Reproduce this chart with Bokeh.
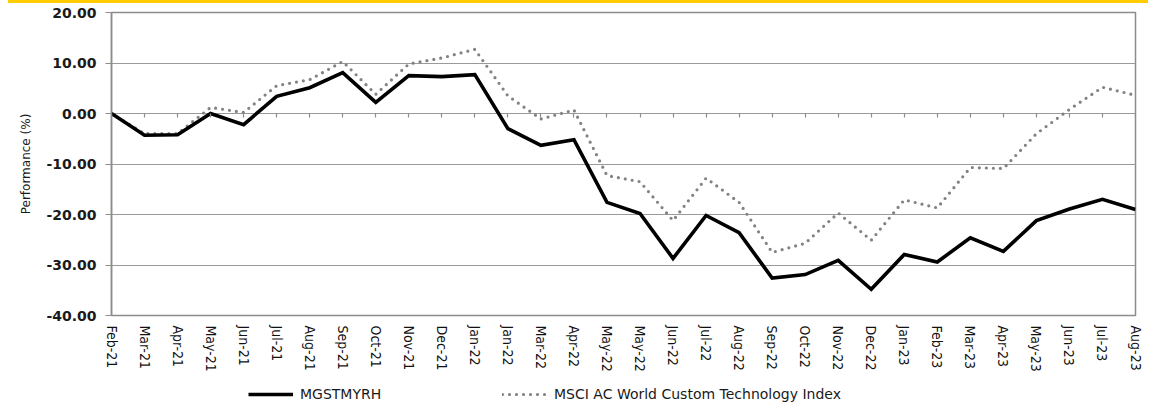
from bokeh.plotting import figure
from bokeh.layouts import column
from bokeh.models import (Range1d, FixedTicker, PrintfTickFormatter, LinearAxis,
                          Legend, LegendItem, ColumnDataSource, Div)
from bokeh.embed import file_html
from bokeh.resources import INLINE

months = ["Feb-21", "Mar-21", "Apr-21", "May-21", "Jun-21", "Jul-21", "Aug-21",
          "Sep-21", "Oct-21", "Nov-21", "Dec-21", "Jan-22", "Jan-22", "Mar-22",
          "Apr-22", "May-22", "May-22", "Jun-22", "Jul-22", "Aug-22", "Sep-22",
          "Oct-22", "Nov-22", "Dec-22", "Jan-23", "Feb-23", "Mar-23", "Apr-23",
          "May-23", "Jun-23", "Jul-23", "Aug-23"]
fund = [0.0, -4.3, -4.2, 0.0, -2.2, 3.4, 5.1, 8.1, 2.2, 7.5, 7.3, 7.7, -3.0, -6.3,
        -5.2, -17.6, -19.8, -28.7, -20.2, -23.6, -32.6, -31.9, -29.1, -34.8, -27.9,
        -29.4, -24.6, -27.3, -21.2, -18.9, -17.0, -19.0]
bench = [0.0, -4.0, -4.0, 1.2, 0.2, 5.5, 6.7, 10.3, 3.8, 9.8, 11.0, 12.7, 3.5, -1.1,
         0.7, -12.3, -13.5, -21.2, -12.8, -17.6, -27.5, -25.7, -19.7, -25.1, -17.1,
         -18.7, -10.7, -10.9, -4.0, 0.8, 5.2, 3.6]
y_ticks = [-40, -30, -20, -10, 0, 10, 20]
fund_name = "MGSTMYRH"
bench_name = "MSCI AC World Custom Technology Index"

FUND_STYLE = dict(line_color="black", line_width=3.6, line_join="miter")
BENCH_STYLE = dict(line_color="#828282", line_width=3.2, line_dash="0 7",
                   line_cap="round", line_join="round")

xs = list(range(len(months)))
src = ColumnDataSource(dict(x=xs, fund=fund, bench=bench))

W = 1152
band = Div(text="", width=1140, height=3, margin=(0, 0, 0, 8),
           styles={"background-color": "#ffcc00"})

p = figure(width=W, height=377, output_backend="svg", toolbar_location=None,
           x_range=Range1d(0, len(months) - 1), y_range=Range1d(y_ticks[0], y_ticks[-1]),
           min_border_left=111, min_border_right=17, min_border_top=9,
           min_border_bottom=65, margin=0)
p.outline_line_color = "#8c8c8c"
p.outline_line_width = 1.5

# grid
p.xgrid.visible = False
p.ygrid.ticker = FixedTicker(ticks=y_ticks)
p.ygrid.grid_line_color = "#9a9a9a"
p.ygrid.grid_line_width = 1.2

# y axis
ya = p.yaxis[0]
ya.ticker = FixedTicker(ticks=y_ticks)
ya.formatter = PrintfTickFormatter(format="%.2f")
ya.axis_line_color = "#8c8c8c"
ya.axis_line_width = 1.5
ya.major_tick_line_color = "#8c8c8c"
ya.major_tick_out = 6
ya.major_tick_in = 0
ya.minor_tick_line_color = None
ya.major_label_standoff = 9
ya.major_label_text_font = "DejaVu Sans"
ya.major_label_text_font_style = "bold"
ya.major_label_text_font_size = "14px"
ya.major_label_text_color = "#1a1a1a"
ya.axis_label = "Performance (%)"
ya.axis_label_text_font = "DejaVu Sans"
ya.axis_label_text_font_style = "normal"
ya.axis_label_text_font_size = "12px"
ya.axis_label_text_color = "#1a1a1a"
ya.axis_label_standoff = 10

# x axis (labels)
xa = p.xaxis[0]
xa.ticker = FixedTicker(ticks=xs)
xa.major_label_overrides = {i: m for i, m in zip(xs, months)}
xa.major_label_orientation = "vertical"
xa.axis_line_color = None
xa.major_tick_line_color = None
xa.minor_tick_line_color = None
xa.major_tick_out = 0
xa.major_tick_in = 0
xa.major_label_standoff = 10
xa.major_label_text_font = "DejaVu Sans Condensed, Liberation Sans Narrow, Roboto, sans-serif"
xa.major_label_text_font_size = "14px"
xa.major_label_text_color = "#111111"

# x ticks at zero line
za = LinearAxis(ticker=FixedTicker(ticks=xs), fixed_location=0)
za.axis_line_color = None
za.major_tick_line_color = "#8c8c8c"
za.major_tick_line_width = 1.2
za.major_tick_out = 4
za.major_tick_in = 0
za.minor_tick_line_color = None
za.major_label_text_font_size = "0px"
za.major_label_text_alpha = 0
p.add_layout(za, "below")

# series
p.line("x", "bench", source=src, **BENCH_STYLE)
p.line("x", "fund", source=src, **FUND_STYLE)

# legend strip (frame aligned with the main plot's frame)
lf = figure(width=W, height=26, output_backend="svg", toolbar_location=None,
            x_range=Range1d(0, 1), y_range=Range1d(0, 1),
            x_axis_location=None, y_axis_location=None,
            min_border_left=111, min_border_right=17, min_border_top=0,
            min_border_bottom=0, margin=0)
lf.outline_line_color = None
lf.grid.visible = False
proxy = ColumnDataSource(dict(x=[-10.0, -9.0], y=[-10.0, -9.0]))
lr_f = lf.line("x", "y", source=proxy, **FUND_STYLE)
lr_b = lf.line("x", "y", source=proxy, **BENCH_STYLE)

def add_legend(label, rend, x):
    lg = Legend(items=[LegendItem(label=label, renderers=[rend])],
                location=(x, 4), orientation="horizontal",
                glyph_width=45, glyph_height=16, label_height=16,
                label_standoff=7, padding=0, margin=0, spacing=0,
                border_line_color=None, background_fill_alpha=0,
                label_text_font="DejaVu Sans", label_text_font_size="14px",
                label_text_color="#1a1a1a")
    lf.add_layout(lg, "center")

add_legend(fund_name, lr_f, 248 - 111)
add_legend(bench_name, lr_b, 502 - 111)

layout = column(band, p, lf, spacing=0)
open("out.html", "w").write(file_html(layout, INLINE))
